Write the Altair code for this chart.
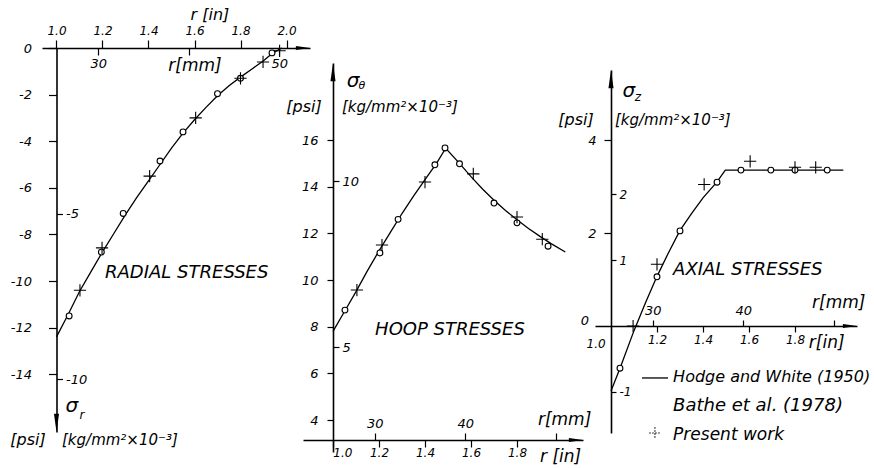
import altair as alt
import pandas as pd

W, H = 874, 468
FONT = "DejaVu Sans"
KSI_PER_KGMM2 = 1.4223   # 1 kg/mm^2 expressed in ksi
MM_PER_IN = 25.4

# ---------------- Radial stress  sigma_r [ksi]  vs  r [in] ----------------
radial_curve_r = [1.00, 1.05, 1.10, 1.15, 1.20, 1.25, 1.30, 1.35, 1.40, 1.45, 1.50,
                  1.55, 1.60, 1.65, 1.70, 1.75, 1.80, 1.85, 1.90, 1.94, 1.98]
radial_curve_s = [-12.4, -11.45, -10.45, -9.6, -8.75, -7.95, -7.15, -6.4, -5.7, -5.0, -4.3,
                  -3.65, -3.08, -2.55, -2.05, -1.62, -1.25, -0.9, -0.55, -0.22, 0.0]
radial_bathe_r = [1.055, 1.195, 1.29, 1.45, 1.55, 1.70, 1.80, 1.937]
radial_bathe_s = [-11.5, -8.76, -7.1, -4.85, -3.6, -1.96, -1.3, -0.21]
radial_present_r = [1.102, 1.198, 1.405, 1.605, 1.80, 1.898, 1.97]
radial_present_s = [-10.4, -8.58, -5.5, -3.0, -1.3, -0.6, -0.12]

# ---------------- Hoop stress  sigma_theta [ksi] ----------------
hoop_curve_r = [1.00, 1.05, 1.10, 1.15, 1.20, 1.25, 1.30, 1.35, 1.40, 1.45, 1.49,
                1.55, 1.60, 1.65, 1.70, 1.75, 1.80, 1.85, 1.90, 1.95, 2.01]
hoop_curve_s = [7.8, 8.65, 9.5, 10.4, 11.25, 12.05, 12.85, 13.6, 14.3, 15.0, 15.65,
                15.0, 14.43, 13.9, 13.42, 12.98, 12.58, 12.21, 11.87, 11.55, 11.2]
hoop_bathe_r = [1.052, 1.204, 1.283, 1.443, 1.487, 1.55, 1.70, 1.80, 1.935]
hoop_bathe_s = [8.71, 11.16, 12.6, 14.94, 15.66, 14.98, 13.3, 12.45, 11.45]
hoop_present_r = [1.104, 1.213, 1.40, 1.61, 1.80, 1.91]
hoop_present_s = [9.57, 11.5, 14.2, 14.55, 12.7, 11.75]

# ---------------- Axial stress  sigma_z [ksi] ----------------
axial_curve_r = [1.00, 1.04, 1.10, 1.15, 1.20, 1.25, 1.30, 1.35, 1.40, 1.46, 1.497,
                 1.60, 1.70, 1.80, 1.90, 2.01]
axial_curve_s = [-1.4, -0.9, -0.1, 0.5, 1.07, 1.58, 2.06, 2.42, 2.76, 3.1, 3.36,
                 3.36, 3.36, 3.36, 3.36, 3.36]
axial_bathe_r = [1.039, 1.20, 1.30, 1.461, 1.565, 1.695, 1.80, 1.94]
axial_bathe_s = [-0.91, 1.06, 2.05, 3.10, 3.36, 3.36, 3.36, 3.36]
axial_present_r = [1.096, 1.20, 1.405, 1.605, 1.80, 1.89]
axial_present_s = [0.0, 1.33, 3.05, 3.55, 3.42, 3.42]

# ticks
in_ticks = [1.0, 1.2, 1.4, 1.6, 1.8, 2.0]
mm_ticks = [30, 40, 50]
radial_psi_ticks = [-14, -12, -10, -8, -6, -4, -2, 0]
radial_kg_ticks = [-10, -5]
hoop_psi_ticks = [4, 6, 8, 10, 12, 14, 16]
hoop_kg_ticks = [5, 10]
axial_psi_ticks = [2, 4]
axial_kg_ticks = [-1, 1, 2]

legend_labels = ["Hodge and White (1950)", "Bathe et al. (1978)", "Present work"]

PLUS = "M-1,0L1,0M0,-1L0,1"
ARROW_UP = "M0,0L0.28,2L-0.28,2Z"
ARROW_DOWN = "M0,0L0.28,-2L-0.28,-2Z"
ARROW_RIGHT = "M0,0L-2,0.28L-2,-0.28Z"
MINUS_EXPR = "datum.value < 0 ? '-' + format(-datum.value, 'd') : format(datum.value, 'd')"


def span(v_ref, px_ref, px_per_unit, px_a, px_b):
    """Linear mapping with v_ref on pixel px_ref, spanning pixels px_a..px_b."""
    return ([v_ref + (px_a - px_ref) / px_per_unit, v_ref + (px_b - px_ref) / px_per_unit],
            [px_a, px_b])


def value_at(sp, px):
    (d0, d1), (p0, p1) = sp
    return d0 + (px - p0) * (d1 - d0) / (p1 - p0)


def scale(sp):
    return alt.Scale(domain=sp[0], range=sp[1], nice=False, zero=False)


def axis(orient, pos_px, values, tick, pad, expr=None, fmt=None, domain=False, size=12):
    offset = {"top": -pos_px, "left": -pos_px,
              "bottom": pos_px - H, "right": pos_px - W}[orient]
    kw = dict(orient=orient, offset=offset, values=values, tickSize=tick, labelPadding=pad,
              domain=domain, grid=False, title=None, tickColor="black", tickWidth=1.2,
              domainColor="black", domainWidth=1.6, labelColor="black", labelFont=FONT,
              labelFontStyle="italic", labelFontSize=size, labelOverlap=False,
              labelFlush=False)
    if expr:
        kw["labelExpr"] = expr
    if fmt:
        kw["format"] = fmt
    return alt.Axis(**kw)


def frame(r, s):
    return pd.DataFrame({"r": r, "s": s})


def enc(P, xaxis=None, yaxis=None):
    return dict(x=alt.X("r:Q", scale=scale(P["x"]), axis=xaxis),
                y=alt.Y("s:Q", scale=scale(P["y"]), axis=yaxis))


def curve(P, r, s, xaxis, yaxis):
    return alt.Chart(frame(r, s)).mark_line(color="black", strokeWidth=1.3).encode(
        **enc(P, xaxis, yaxis))


def circles(P, r, s):
    return alt.Chart(frame(r, s)).mark_point(
        shape="circle", filled=True, fill="white", stroke="black", strokeWidth=1.1,
        size=34, opacity=1).encode(**enc(P))


def pluses(P, r, s, size=150, dash=None):
    kw = dict(shape=PLUS, filled=False, stroke="black", strokeWidth=1.1, size=size, opacity=1)
    if dash:
        kw["strokeDash"] = dash
    return alt.Chart(frame(r, s)).mark_point(**kw).encode(**enc(P))


def arrow(P, r, s, shape, size=330):
    return alt.Chart(frame([r], [s])).mark_point(
        shape=shape, filled=True, color="black", size=size, opacity=1).encode(**enc(P))


def secondary(P, mm_axis, kg_axis):
    mm = ([d * MM_PER_IN for d in P["x"][0]], P["x"][1])
    kg = ([d / KSI_PER_KGMM2 for d in P["y"][0]], P["y"][1])
    return alt.Chart(frame(mm[0], kg[0])).mark_point(opacity=0).encode(
        x=alt.X("r:Q", scale=scale(mm), axis=mm_axis),
        y=alt.Y("s:Q", scale=scale(kg), axis=kg_axis))


def label(P, text, r, s, size, align="center"):
    return alt.Chart(pd.DataFrame({"t": [text], "r": [r], "s": [s]})).mark_text(
        font=FONT, fontSize=size, fontStyle="italic", align=align, baseline="middle",
        color="black").encode(text="t:N", **enc(P))


# ---------------- panel geometry (pixels per unit) ----------------
P1 = dict(x=span(1.0, 56.5, 230, 42, 310), y=span(0.0, 48, -23.3, 432, 48))
P2 = dict(x=span(1.0, 333, 230, 303, 583), y=span(4.0, 420, -23.33, 452, 63))
P3 = dict(x=span(1.0, 611, 230, 595, 857), y=span(0.0, 326, -46.4, 433, 70))
P2_base = value_at(P2["y"], 440)

layers = []

# Radial stresses
layers += [
    secondary(P1,
              axis("bottom", 48, mm_ticks, 7, 2, expr="datum.value == 40 ? '' : datum.label", size=13),
              axis("right", 56.5, radial_kg_ticks, 6, 3, expr=MINUS_EXPR, size=13)),
    curve(P1, radial_curve_r, radial_curve_s,
          axis("top", 48, in_ticks, 8, 3, fmt=".1f", domain=True),
          axis("left", 56.5, radial_psi_ticks, 8, 17, expr=MINUS_EXPR, domain=True, size=13)),
    circles(P1, radial_bathe_r, radial_bathe_s),
    pluses(P1, radial_present_r, radial_present_s),
    arrow(P1, P1["x"][0][1], 0.0, ARROW_RIGHT, 200),
    arrow(P1, 1.0, P1["y"][0][0], ARROW_DOWN),
    label(P1, "r [in]", 1.667, 1.416, 16),
    label(P1, "r[mm]", 1.602, -0.773, 17),
    label(P1, "RADIAL STRESSES", 1.211, -9.657, 18, "left"),
    label(P1, "σ", 1.067, -15.36, 20),
    label(P1, "r", 1.111, -15.75, 12),
    label(P1, "[psi]", 0.876, -16.82, 16),
    label(P1, "[kg/mm²×10⁻³]", 1.024, -16.82, 15, "left"),
]

# Hoop stresses
layers += [
    secondary(P2,
              axis("top", 440, mm_ticks, 7, 3, expr="datum.value == 50 ? '' : datum.label", size=13),
              axis("right", 333, hoop_kg_ticks, 6, 3, expr=MINUS_EXPR, size=13)),
    curve(P2, hoop_curve_r, hoop_curve_s,
          axis("bottom", 440, in_ticks[:-1], 7, 0, fmt=".1f", domain=True,
               expr="datum.value == 1 ? '' : datum.label"),
          axis("left", 333, hoop_psi_ticks, 6, 9, expr=MINUS_EXPR, domain=True, size=13)),
    circles(P2, hoop_bathe_r, hoop_bathe_s),
    pluses(P2, hoop_present_r, hoop_present_s),
    arrow(P2, P2["x"][0][1], P2_base, ARROW_RIGHT, 200),
    arrow(P2, 1.0, P2["y"][0][1], ARROW_UP),
    label(P2, "σ", 1.087, 18.53, 20),
    label(P2, "θ", 1.126, 18.32, 11),
    label(P2, "[psi]", 0.874, 17.42, 16),
    label(P2, "[kg/mm²×10⁻³]", 1.039, 17.42, 15, "left"),
    label(P2, "HOOP STRESSES", 1.183, 7.858, 18, "left"),
    label(P2, "r[mm]", 1.891, 4.0, 17, "left"),
    label(P2, "r [in]", 1.90, 2.414, 17, "left"),
    label(P2, "1.0", 1.043, 2.586, 12),
]

# Axial stresses
layers += [
    secondary(P3,
              axis("top", 326, mm_ticks, 6, 3, expr="datum.value == 50 ? '' : datum.label", size=13),
              axis("right", 611, axial_kg_ticks, 5, 3, expr=MINUS_EXPR, size=12)),
    curve(P3, axial_curve_r, axial_curve_s,
          axis("bottom", 326, in_ticks[1:-1], 6, 2, fmt=".1f", domain=True),
          axis("left", 611, axial_psi_ticks, 7, 8, expr=MINUS_EXPR, domain=True, size=13)),
    circles(P3, axial_bathe_r, axial_bathe_s),
    pluses(P3, axial_present_r, axial_present_s),
    arrow(P3, P3["x"][0][1], 0.0, ARROW_RIGHT, 200),
    arrow(P3, 1.0, P3["y"][0][1], ARROW_UP),
    label(P3, "σ", 1.078, 5.065, 20),
    label(P3, "z", 1.117, 4.935, 12),
    label(P3, "[psi]", 0.848, 4.44, 16),
    label(P3, "[kg/mm²×10⁻³]", 1.017, 4.44, 15, "left"),
    label(P3, "AXIAL STRESSES", 1.27, 1.207, 18, "left"),
    label(P3, "r[mm]", 1.874, 0.496, 17, "left"),
    label(P3, "r[in]", 1.86, -0.366, 17, "left"),
    label(P3, "0", 0.887, 0.108, 13),
    label(P3, "1.0", 0.935, -0.388, 12),
    # key
    alt.Chart(frame([1.135, 1.248], [-1.12, -1.12])).mark_line(
        color="black", strokeWidth=1.3).encode(**enc(P3)),
    pluses(P3, [1.191], [-2.306], size=130, dash=[1.5, 1.5]),
    label(P3, legend_labels[0], 1.27, -1.099, 16, "left"),
    label(P3, legend_labels[1], 1.27, -1.724, 18, "left"),
    label(P3, legend_labels[2], 1.27, -2.349, 17, "left"),
]

chart = alt.layer(*layers).resolve_scale(x="independent", y="independent").properties(
    width=W, height=H, autosize=alt.AutoSizeParams(type="none"), padding=0,
    background="white").configure_view(strokeWidth=0)

chart.save("out.html", embed_options={"renderer": "svg", "actions": False})
